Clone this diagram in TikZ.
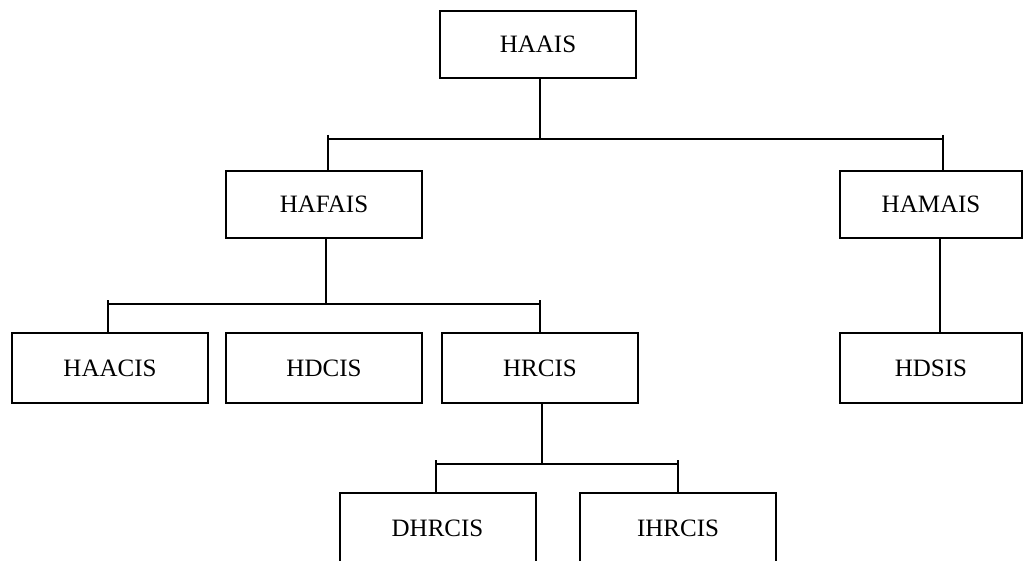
\documentclass[tikz,border=0pt]{standalone}
\usepackage{fontspec}
\setmainfont{Liberation Serif}
\begin{document}
\begin{tikzpicture}[x=1pt,y=-1pt,
  box/.style={draw, line width=2pt, inner sep=0pt, minimum width=196pt, minimum height=#1, font=\fontsize{25}{30}\selectfont},
  box/.default=70pt,
  conn/.style={line width=2pt}]
\clip (0,0) rectangle (1024,561);
\fill[white] (0,0) rectangle (1024,561);
% nodes
\node[box=67pt] (HAAIS) at (538,44.5) {HAAIS};
\node[box=67pt] (HAFAIS) at (324,204.5) {HAFAIS};
\node[box=67pt, minimum width=182pt] (HAMAIS) at (931,204.5) {HAMAIS};
\node[box] (HAACIS) at (110,368) {HAACIS};
\node[box] (HDCIS) at (324,368) {HDCIS};
\node[box] (HRCIS) at (540,368) {HRCIS};
\node[box, minimum width=182pt] (HDSIS) at (931,368) {HDSIS};
\node[box] (DHRCIS) at (437.5,528) {DHRCIS};
\node[box] (IHRCIS) at (678,528) {IHRCIS};
% bus 1
\coordinate (b1) at (540,139);
\coordinate (b1l) at (328,139);
\coordinate (b1r) at (943,139);
\draw[conn] (HAAIS.south -| b1) -- (b1);
\draw[conn] (b1l) -- (b1r);
\draw[conn] ([yshift=4pt]b1l) -- (HAFAIS.north -| b1l);
\draw[conn] ([yshift=4pt]b1r) -- (HAMAIS.north -| b1r);
% bus 2
\coordinate (b2) at (326,304);
\coordinate (b2l) at (108,304);
\coordinate (b2r) at (540,304);
\draw[conn] (HAFAIS.south -| b2) -- (b2);
\draw[conn] (b2l) -- (b2r);
\draw[conn] ([yshift=4pt]b2l) -- (HAACIS.north -| b2l);
\draw[conn] ([yshift=4pt]b2r) -- (HRCIS.north -| b2r);
% HAMAIS to HDSIS
\coordinate (m) at (940,0);
\draw[conn] (HAMAIS.south -| m) -- (HDSIS.north -| m);
% bus 3
\coordinate (b3) at (542,464);
\coordinate (b3l) at (436,464);
\coordinate (b3r) at (678,464);
\draw[conn] (HRCIS.south -| b3) -- (b3);
\draw[conn] (b3l) -- (b3r);
\draw[conn] ([yshift=4pt]b3l) -- (DHRCIS.north -| b3l);
\draw[conn] ([yshift=4pt]b3r) -- (IHRCIS.north -| b3r);
\end{tikzpicture}
\end{document}
